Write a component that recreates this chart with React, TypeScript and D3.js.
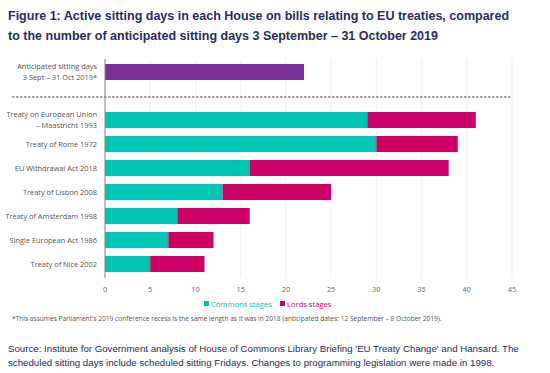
import * as d3 from "d3";

const treaties = [
  "Treaty on European Union|– Maastricht 1993",
  "Treaty of Rome 1972",
  "EU Withdrawal Act 2018",
  "Treaty of Lisbon 2008",
  "Treaty of Amsterdam 1998",
  "Single European Act 1986",
  "Treaty of Nice 2002",
];
const commonsDays = [29, 30, 16, 13, 8, 7, 5];
const lordsDays = [12, 9, 22, 12, 8, 5, 6];
const anticipatedLabel = "Anticipated sitting days|3 Sept – 31 Oct 2019*";
const anticipatedDays = 22;
const xTicks = [0, 5, 10, 15, 20, 25, 30, 35, 40, 45];

const NAVY = "#2a2d5c";
const TEAL = "#00c4b3";
const PINK = "#cc0066";
const PURPLE = "#7b2f98";
const FONT = "'Open Sans', sans-serif";
const SANS = "'Liberation Sans', sans-serif";

export default function App() {
  const width = 550;
  const height = 373;
  const x = d3.scaleLinear().domain([0, 45]).range([105, 512]);
  const y = d3.scaleBand<string>().domain(treaties).range([108, 276]).paddingInner(1 / 3).paddingOuter(1 / 6);
  const bh = y.bandwidth();

  const label = (text: string, cy: number) => {
    const lines = text.split("|");
    const lh = 10.5;
    const y0 = cy - ((lines.length - 1) * lh) / 2;
    return (
      <text x={97} textAnchor="end" fontSize={7.4} fill="#555" fontFamily={FONT}>
        {lines.map((l, i) => (
          <tspan key={i} x={97} y={y0 + i * lh} dy="0.35em">{l}</tspan>
        ))}
      </text>
    );
  };

  return (
    <svg width={width} height={height} style={{ position: "absolute", left: 0, top: 0, background: "#fff" }}>
      <text x={8} y={20} fontSize={12.5} fontWeight="bold" fill={NAVY} fontFamily={SANS}>
        Figure 1: Active sitting days in each House on bills relating to EU treaties, compared
      </text>
      <text x={8} y={40} fontSize={12.5} fontWeight="bold" fill={NAVY} fontFamily={SANS}>
        to the number of anticipated sitting days 3 September – 31 October 2019
      </text>

      {xTicks.map((t) => (
        <line key={t} x1={x(t)} x2={x(t)} y1={59} y2={278} stroke="#ececec" strokeWidth={0.8} />
      ))}

      <rect x={x(0)} y={64} width={x(anticipatedDays) - x(0)} height={16} fill={PURPLE} />
      {label(anticipatedLabel, 72)}

      <line x1={12} x2={512} y1={97} y2={97} stroke="#444" strokeWidth={1} strokeDasharray="2.5,1.5" />

      {treaties.map((t, i) => (
        <g key={t}>
          <rect x={x(0)} y={y(t)} width={x(commonsDays[i]) - x(0)} height={bh} fill={TEAL} />
          <rect x={x(commonsDays[i])} y={y(t)} width={x(commonsDays[i] + lordsDays[i]) - x(commonsDays[i])} height={bh} fill={PINK} />
          {label(t, (y(t) ?? 0) + bh / 2)}
        </g>
      ))}

      <line x1={x(0)} x2={x(0)} y1={59} y2={278} stroke="#888" strokeWidth={1} />

      {xTicks.map((t) => (
        <text key={t} x={x(t)} y={292} textAnchor="middle" fontSize={7.4} fill="#666" fontFamily={FONT}>
          {t}
        </text>
      ))}

      <rect x={204} y={301} width={5} height={5} fill={TEAL} />
      <text x={211} y={307} fontSize={7.6} fill={TEAL} fontFamily={FONT}>Commons stages</text>
      <rect x={280} y={301} width={5} height={5} fill={PINK} />
      <text x={287} y={307} fontSize={7.6} fill={PINK} fontFamily={FONT}>Lords stages</text>

      <text x={12} y={321} fontSize={6.6} fill="#555" fontFamily={FONT}>
        *This assumes Parliament's 2019 conference recess is the same length as it was in 2018 (anticipated dates: 12 September – 8 October 2019).
      </text>

      <text x={8} y={352} fontSize={9.7} fill={NAVY} fontFamily={SANS}>
        Source: Institute for Government analysis of House of Commons Library Briefing  'EU Treaty Change' and Hansard. The
      </text>
      <text x={8} y={366} fontSize={9.7} fill={NAVY} fontFamily={SANS}>
        scheduled sitting days include scheduled sitting Fridays. Changes to programming legislation were made in 1998.
      </text>
    </svg>
  );
}
